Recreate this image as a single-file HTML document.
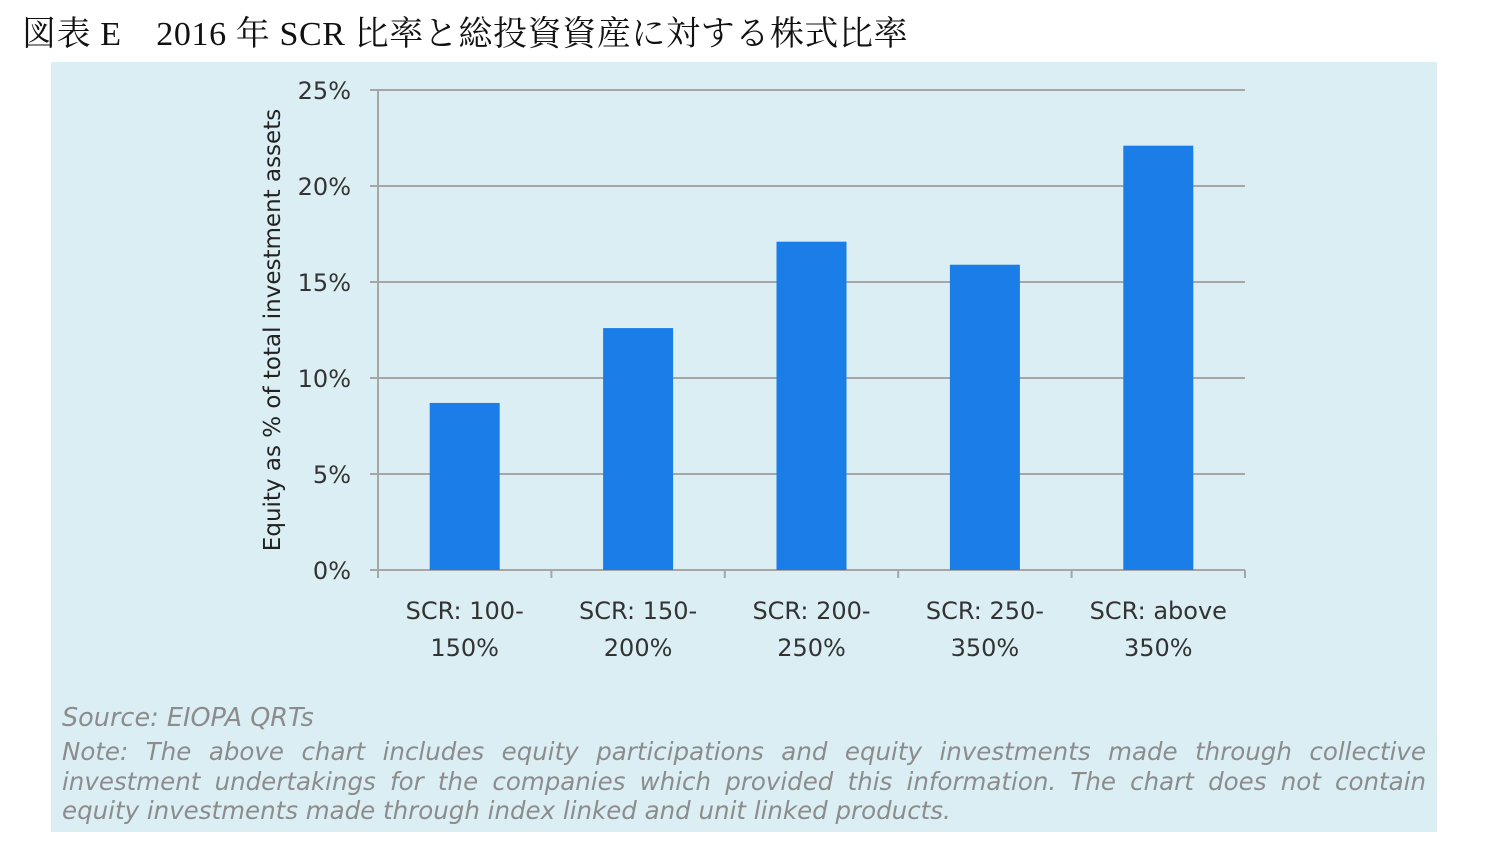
<!DOCTYPE html>
<html><head><meta charset="utf-8">
<style>
body{margin:0;width:1489px;height:844px;background:#fff;overflow:hidden;position:relative;font-family:"Liberation Sans",sans-serif}
#title{position:absolute;left:22px;top:6px;font-family:"Liberation Serif","Noto Serif CJK SC",serif;font-size:34px;letter-spacing:0.6px;color:#111;white-space:nowrap}
#panel{position:absolute;left:51px;top:62px;width:1386px;height:770px;background:#dbeef4}
.note{position:absolute;left:62px;width:1364px;font-style:italic;color:#8c8c8c;font-family:"DejaVu Sans","Liberation Sans",sans-serif}
.ln{font-size:24.5px;height:29.5px;line-height:29.5px;white-space:nowrap}
.j{text-align:justify;text-align-last:justify}
</style></head><body>
<div id="title">図表 E　2016 年 SCR 比率と総投資資産に対する株式比率</div>
<div id="panel"></div>
<svg id="chart" width="1489" height="844" style="position:absolute;left:0;top:0"></svg>
<div class="note" style="top:703px;font-size:25.5px">Source: EIOPA QRTs</div>
<div class="note" style="top:737px">
<div class="ln j">Note: The above chart includes equity participations and equity investments made through collective</div>
<div class="ln j">investment undertakings for the companies which provided this information. The chart does not contain</div>
<div class="ln">equity investments made through index linked and unit linked products.</div>
</div>
<script>
const categories=[["SCR: 100-","150%"],["SCR: 150-","200%"],["SCR: 200-","250%"],["SCR: 250-","350%"],["SCR: above","350%"]];
const values=[8.7,12.6,17.1,15.9,22.1];
const yTicks=[0,5,10,15,20,25];
const yTickLabels=["0%","5%","10%","15%","20%","25%"];
const svg=document.getElementById('chart');
const NS='http://www.w3.org/2000/svg';
const x0=378,x1=1245,yB=570,yT=90,yMax=25;
const y=v=>yB-(v/yMax)*(yB-yT);
const band=(x1-x0)/categories.length;
const xc=i=>x0+band*(i+0.5);
function mk(t,a){const e=document.createElementNS(NS,t);for(const k in a)e.setAttribute(k,a[k]);svg.appendChild(e);return e;}
yTicks.forEach((t,i)=>{
 const g=mk('line',{x1:x0-8,x2:x1,y1:y(t),y2:y(t),stroke:'#a6a6a6','stroke-width':2});
 
 
 const l=mk('text',{x:351,y:y(t)+9,'text-anchor':'end','font-size':24,fill:'#333','font-family':'DejaVu Sans, Liberation Sans, sans-serif'});
 l.textContent=yTickLabels[i];
 
 
});
const ax=mk('line',{x1:x0,x2:x0,y1:yT,y2:yB,stroke:'#a6a6a6','stroke-width':2});


for(let i=0;i<=categories.length;i++){
 const tk=mk('line',{x1:x0+band*i,x2:x0+band*i,y1:yB,y2:yB+8,stroke:'#a6a6a6','stroke-width':2});
 
 
}
values.forEach((v,i)=>{
 const b=mk('rect',{x:xc(i)-35,y:y(v),width:70,height:yB-y(v),fill:'#1a7de8'});
 
 
 categories[i].forEach((s,j)=>{
  const t=mk('text',{x:xc(i),y:619+j*37,'text-anchor':'middle','font-size':24,fill:'#333','font-family':'DejaVu Sans, Liberation Sans, sans-serif'});
  t.textContent=s;
  
  
 });
});
const yt=mk('text',{x:0,y:0,transform:'translate(280,330) rotate(-90)','text-anchor':'middle','font-size':23,fill:'#222','font-family':'DejaVu Sans, Liberation Sans, sans-serif'});
yt.textContent='Equity as % of total investment assets';


</script>
</body></html>
